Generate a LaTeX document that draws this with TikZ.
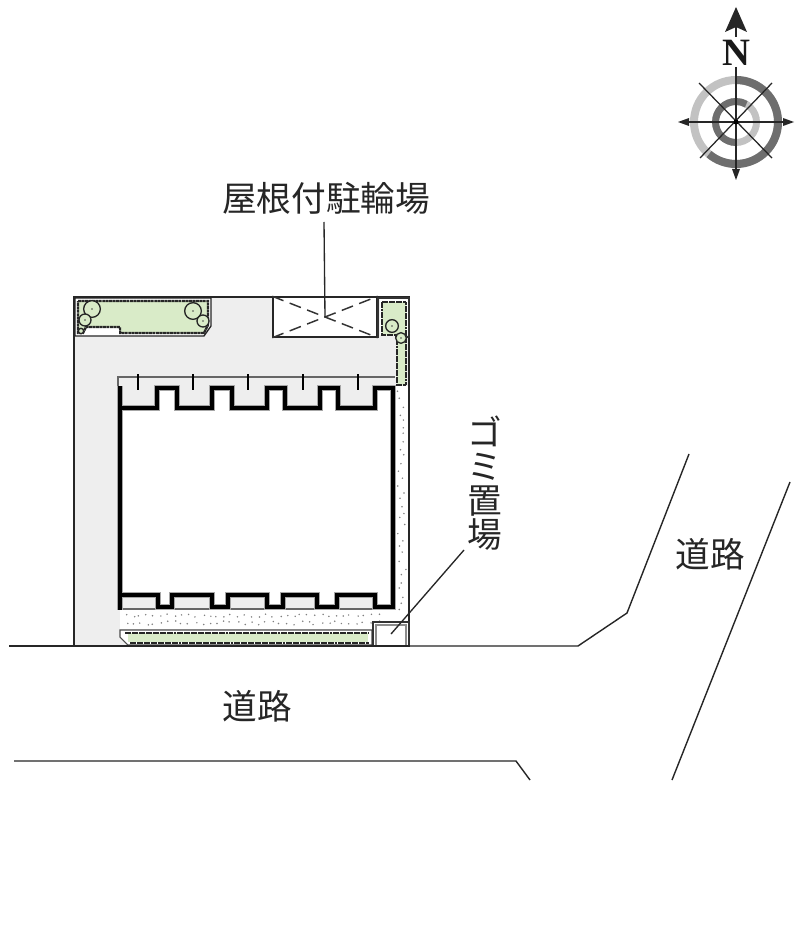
\documentclass[tikz,border=0pt]{standalone}
\usepackage{fontspec}
\newfontfamily\cjk{Noto Sans CJK JP}
\newfontfamily\nfont{Liberation Serif}
\tikzset{
  x=0.75pt,y=-0.75pt,
  road/.style={draw=black!85,line width=1.05pt},
  lbl/.style={font=\cjk\fontsize{26}{25.5}\selectfont,text=black!85,inner sep=0pt},
  leader/.style={draw=black!85,line width=1pt},
  wall/.style={draw=black,line width=3.3pt,line join=miter},
  wallhalo/.style={draw=black!35,line width=4.6pt,line join=miter},
  thin/.style={draw=black!60,line width=0.8pt},
  hedge/.style={draw=black!85,line width=1.7pt,dash pattern=on 2.2pt off 0.4pt,fill=plant},
  tree/.style={draw=black!85,line width=1pt,fill=plant},
  cross/.style={draw=black!80,line width=1.1pt,dash pattern=on 9pt off 5pt},
  ray/.style={draw=black!85,line width=0.95pt},
  tip/.style={fill=black!85,draw=none},
  speck/.style={fill=black!50},
}
\definecolor{site}{HTML}{EEEEEE}
\definecolor{plant}{HTML}{D9EBC8}
\definecolor{dark}{HTML}{6E6E6E}
\definecolor{lite}{HTML}{C2C2C2}
\begin{document}
\begin{tikzpicture}
\useasboundingbox[fill=white] (0,0) rectangle (800,941);
% site
\fill[site] (74,297) rectangle (409,646);
% dotted strips
\fill[white] (393,386) rectangle (409,622);
\fill[white] (120,610) rectangle (409,629);
\pgfmathsetseed{5}
\foreach \i in {0,...,31}{\fill[speck] ({397+rnd*9},{391+\i*7+rnd*4}) circle (0.85);}
\foreach \i in {0,...,36}{
  \fill[speck] ({124+\i*7+rnd*4},{614+rnd*3}) circle (0.85);
  \fill[speck] ({124+\i*7+rnd*4},{621+rnd*4}) circle (0.85);}
\draw[thin] (409,386) -- (409,622);
% front planter
\filldraw[fill=white,draw=black!70,line width=0.8pt] (120,630) -- (372,630) -- (372,645) -- (128,645) -- (120,637) -- cycle;
\fill[plant] (128,633) rectangle (368,642);
\draw[draw=black!85,line width=1.6pt,dash pattern=on 2.2pt off 0.4pt] (125,633) -- (369,633);
\draw[draw=black!85,line width=1.6pt,dash pattern=on 2.2pt off 0.4pt] (130,643) -- (369,643);
% site frame
\draw[black!85,line width=1.05pt] (74,646) -- (74,297) -- (409,297) -- (409,646);
% top-left planter
\filldraw[fill=white,draw=black!85,line width=1pt] (75,298) -- (211,298) -- (211,326) -- (204,336) -- (75,336) -- cycle;
\draw[hedge] (78,301) -- (208,301) -- (208,325) -- (204,333) -- (120,333) -- (120,327) -- (86,327) -- (83,333) -- (78,333) -- cycle;
\fill[white] (87,329) rectangle (119,335);
\node[tree,circle,minimum size=12.5pt,inner sep=0pt] (t1) at (92,309) {};
\node[tree,circle,minimum size=9pt,inner sep=0pt] (t2) at (85,320) {};
\node[tree,circle,minimum size=4pt,inner sep=0pt] (t3) at (81,331) {};
\node[tree,circle,minimum size=12.5pt,inner sep=0pt] (t4) at (193,311) {};
\node[tree,circle,minimum size=9pt,inner sep=0pt] (t5) at (203,321) {};
\fill[black!70] (92,309) circle (0.9) (85,320) circle (0.8) (193,311) circle (0.9) (203,321) circle (0.8);
% bike shelter
\node[draw=black!85,line width=1.05pt,fill=white,minimum width=78pt,minimum height=30pt,inner sep=0pt] (shelter) at (325,317) {};
\draw[cross] (shelter.north west) -- (shelter.south east);
\draw[cross] (shelter.south west) -- (shelter.north east);
% right planter
\filldraw[fill=site,draw=black!80,line width=0.8pt] (378,298) rectangle (409,337);
\fill[white] (380,299) rectangle (408,335);
\fill[site] (379,335) rectangle (395,338);
\draw[hedge] (382,302) -- (406,302) -- (406,385) -- (397,385) -- (397,335) -- (382,335) -- cycle;
\node[tree,circle,minimum size=9.5pt,inner sep=0pt] (t6) at (392,326) {};
\node[tree,circle,minimum size=8pt,inner sep=0pt] (t7) at (401,338) {};
\fill[black!70] (392,326) circle (0.8) (401,338) circle (0.8);
% bay outlines
\fill[site] (119,377) rectangle (394,388);
\fill[site] (122,388) -- (157,388) -- (157,406) -- (122,406) -- cycle;
\foreach \a/\b in {177/212,232/267,285/320,338/375}{\fill[site] (\a,388) rectangle (\b,406);}
\draw[thin,line width=1pt] (118,388) -- (118,377) -- (395,377);
\foreach \x in {138,193,248,303,358}{\draw[black,line width=1.2pt] (\x,374) -- (\x,390);}
\draw[thin] (120,609) -- (393,609);
% building
\fill[white] (120,408) -- (157,408) -- (157,388) -- (177,388) -- (177,408) -- (212,408) -- (212,388) -- (232,388) -- (232,408) -- (267,408) -- (267,388) -- (285,388) -- (285,408) -- (320,408) -- (320,388) -- (338,388) -- (338,408) -- (375,408) -- (375,388) -- (393,388)
  -- (393,607) -- (375,607) -- (375,595) -- (337,595) -- (337,607) -- (317,607) -- (317,595) -- (283,595) -- (283,607) -- (267,607) -- (267,595) -- (228,595) -- (228,607) -- (212,607) -- (212,595) -- (172,595) -- (172,607) -- (158,607) -- (158,595) -- (120,595) -- cycle;
\def\wallpath{(120,386) -- (120,408) -- (157,408) -- (157,388) -- (177,388) -- (177,408) -- (212,408) -- (212,388) -- (232,388) -- (232,408) -- (267,408) -- (267,388) -- (285,388) -- (285,408) -- (320,408) -- (320,388) -- (338,388) -- (338,408) -- (375,408) -- (375,388) -- (393,388) -- (393,607) -- (375,607) -- (375,595) -- (337,595) -- (337,607) -- (317,607) -- (317,595) -- (283,595) -- (283,607) -- (267,607) -- (267,595) -- (228,595) -- (228,607) -- (212,607) -- (212,595) -- (172,595) -- (172,607) -- (158,607) -- (158,595) -- (120,595)}
\draw[wallhalo] \wallpath;
\draw[wallhalo] (120,386) -- (120,610);
\draw[wall] \wallpath;
\draw[wall] (120,386) -- (120,610);
% trash box
\node[draw=black!80,line width=0.9pt,fill=white,minimum width=27pt,minimum height=18pt,inner sep=0pt] (trash) at (391,634) {};
\draw[black!45,line width=1.5pt] (376,646) -- (376,625) -- (406,625) -- (406,646);
% roads
\coordinate (r1a) at (9,646); \coordinate (r1b) at (74,646);
\coordinate (r2a) at (410,646); \coordinate (r2b) at (578,646); \coordinate (r2c) at (627,613); \coordinate (r2d) at (689,454);
\coordinate (r3a) at (14,761); \coordinate (r3b) at (516,761); \coordinate (r3c) at (530,780);
\coordinate (r4a) at (790,482); \coordinate (r4b) at (672,780);
\draw[road] (r1a) -- (r1b);
\draw[road] (r1b) -- (r2a);
\draw[road] (r2a) -- (r2b) -- (r2c) -- (r2d);
\draw[road] (r3a) -- (r3b) -- (r3c);
\draw[road] (r4a) -- (r4b);
% labels
\node[lbl] (bike) at (326,198) {屋根付駐輪場};
\draw[leader] (324,222) -- (shelter.center);
\node[lbl,align=center] (gomi) at (485,483) {ゴ\\ミ\\置\\場};
\coordinate (gomitip) at (464,550);
\draw[leader] (gomitip) -- (trash.center);
\node[lbl] (road1) at (710,554) {道路};
\node[lbl] (road2) at (257,706) {道路};
% compass
\coordinate (c) at (736,122);
\draw[lite,line width=6pt] (c) circle (42);
\draw[dark,line width=6pt] (736,80) arc[start angle=-90,delta angle=220,x radius=42,y radius=42];
\draw[lite,line width=5.2pt] (c) circle (20.5);
\draw[dark,line width=5.2pt] (736,142.5) arc[start angle=90,delta angle=210,x radius=20.5,y radius=20.5];
\coordinate (nN) at (736,67); \coordinate (nS) at (736,172); \coordinate (nW) at (686,122); \coordinate (nE) at (786,122);
\coordinate (d1) at (699,83); \coordinate (d2) at (772,158); \coordinate (d3) at (772,83); \coordinate (d4) at (700,158);
\draw[ray] (nN) -- (nS);
\draw[ray] (nW) -- (nE);
\draw[ray] (d1) -- (d2);
\draw[ray] (d3) -- (d4);
\fill[tip] (736,180) -- (732,169) -- (740,169) -- cycle;
\fill[tip] (678,122) -- (689,118) -- (689,126) -- cycle;
\fill[tip] (794,122) -- (783,118) -- (783,126) -- cycle;
\fill[black] (c) circle (2.5);
\fill[tip] (736,7) -- (747,32) -- (736,27) -- (725,32) -- cycle;
\draw[ray] (736,26) -- (736,37);
\node[font=\nfont\bfseries\fontsize{29}{29}\selectfont,inner sep=0pt,text=black!90] (north) at (736,53) {N};
\end{tikzpicture}
\end{document}
